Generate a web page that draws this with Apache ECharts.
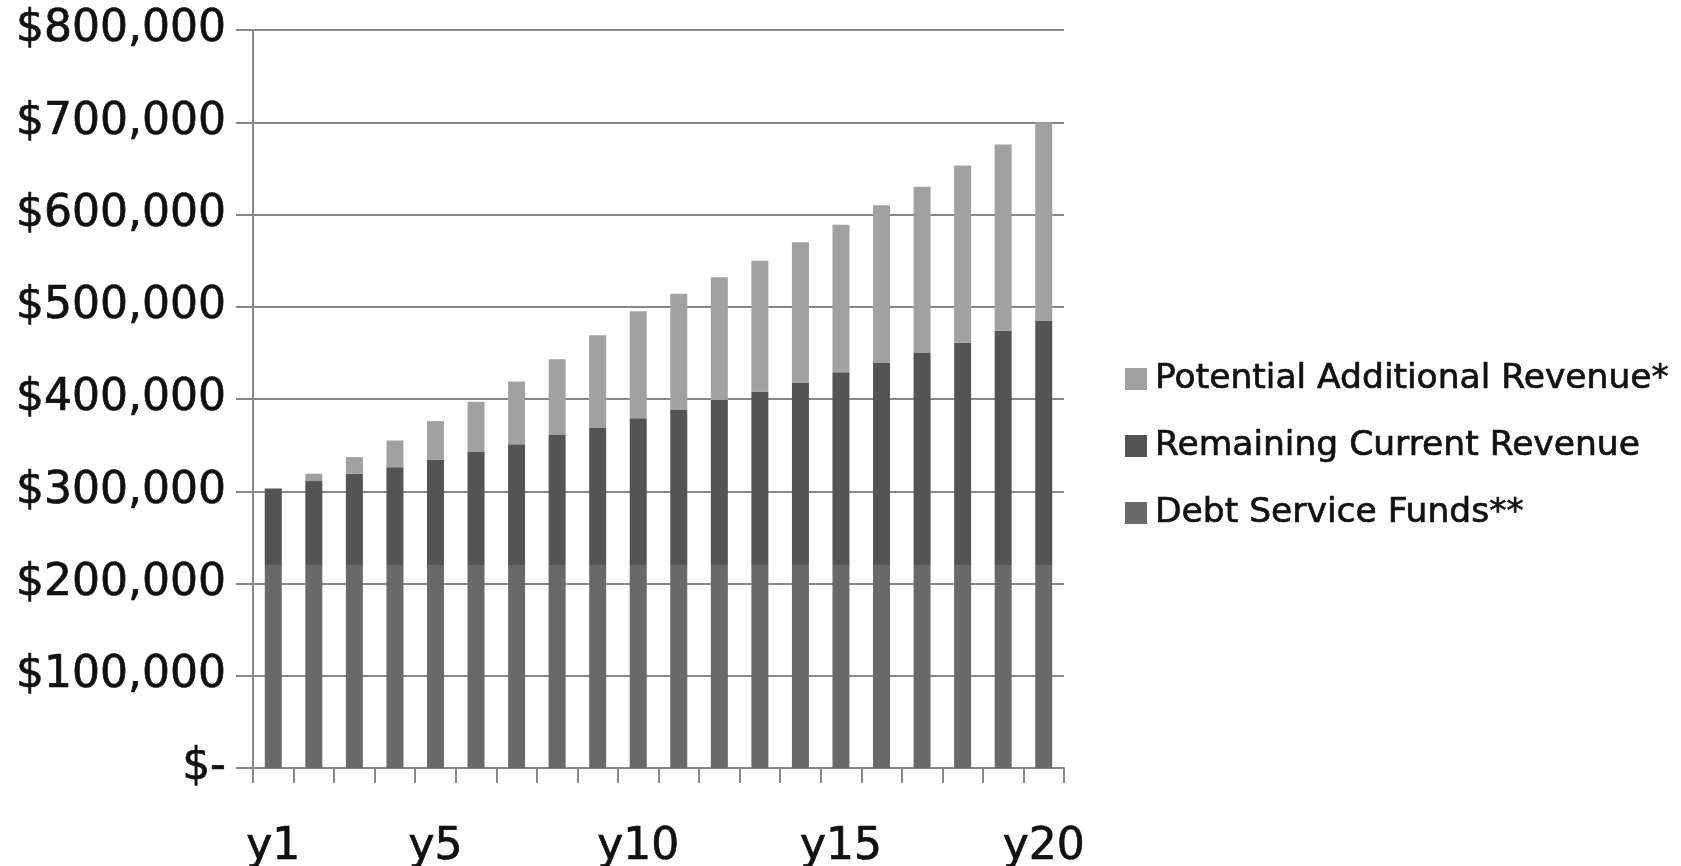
<!DOCTYPE html>
<html>
<head>
<meta charset="utf-8">
<script src="https://cdn.jsdelivr.net/npm/echarts@6/dist/echarts.min.js"></script>
<style>
  html, body { margin: 0; padding: 0; background: #ffffff; }
  #chart { width: 1681px; height: 866px; }
</style>
</head>
<body>
<div id="chart"></div>
<script>
// Years of the projection
const years = ['y1','y2','y3','y4','y5','y6','y7','y8','y9','y10',
               'y11','y12','y13','y14','y15','y16','y17','y18','y19','y20'];

// Stacked revenue components, in dollars
const debtServiceFunds = [220000,220000,220000,220000,220000,220000,220000,220000,220000,220000,
                          220000,220000,220000,220000,220000,220000,220000,220000,220000,220000];
const remainingCurrentRevenue = [83000,91000,99000,106000,114000,123000,131000,141000,149000,159000,
                                 168000,179000,188000,198000,209000,219000,230000,241000,254000,265000];
const potentialAdditionalRevenue = [0,8000,18000,29000,42000,54000,68000,82000,100000,116000,
                                    126000,133000,142000,152000,160000,171000,180000,192000,202000,215000];

// Axis range
const yMin = 0, yMax = 800000, yStep = 100000;

const gridColor = '#878787';
const textFont = 'DejaVu Sans';
const textColor = '#111111';
// a thin outline in the text colour gives the labels a slightly heavier stroke
const heavyText = { color: textColor, textBorderColor: textColor, textBorderWidth: 0.7 };

const chart = echarts.init(document.getElementById('chart'), null, { renderer: 'canvas' });

chart.setOption({
  animation: false,
  backgroundColor: '#ffffff',
  grid: { left: 253, right: 617, top: 30, bottom: 98, containLabel: false, outerBoundsMode: 'none' },
  legend: {
    orient: 'vertical',
    left: 1120,
    top: 354,
    itemWidth: 22,
    itemHeight: 22,
    itemGap: 27,
    icon: 'rect',
    textStyle: Object.assign({ fontFamily: textFont, fontSize: 34.5, lineHeight: 40, padding: [0, 0, 0, 3] }, heavyText),
    data: ['Potential Additional Revenue*', 'Remaining Current Revenue', 'Debt Service Funds**']
  },
  xAxis: {
    type: 'category',
    data: years,
    boundaryGap: true,
    axisLine: { show: true, lineStyle: { color: gridColor, width: 2 } },
    axisTick: { show: true, interval: 0, length: 15, lineStyle: { color: gridColor, width: 2 } },
    axisLabel: Object.assign({
      interval: (i) => i === 0 || (i + 1) % 5 === 0,
      margin: 58,
      fontFamily: textFont,
      fontSize: 44
    }, heavyText),
    splitLine: { show: false }
  },
  yAxis: {
    type: 'value',
    min: yMin,
    max: yMax,
    interval: yStep,
    axisLine: { show: true, lineStyle: { color: gridColor, width: 2 } },
    axisTick: { show: true, length: 17, lineStyle: { color: gridColor, width: 2 } },
    splitLine: { show: true, lineStyle: { color: gridColor, width: 2 } },
    axisLabel: Object.assign({
      margin: 27,
      fontFamily: textFont,
      fontSize: 44,
      formatter: (v) => v === 0 ? '$-' : '$' + v.toLocaleString('en-US')
    }, heavyText)
  },
  series: [
    {
      name: 'Debt Service Funds**',
      type: 'bar',
      stack: 'revenue',
      barWidth: 17,
      itemStyle: { color: '#696969' },
      data: debtServiceFunds
    },
    {
      name: 'Remaining Current Revenue',
      type: 'bar',
      stack: 'revenue',
      barWidth: 17,
      itemStyle: { color: '#545454' },
      data: remainingCurrentRevenue
    },
    {
      name: 'Potential Additional Revenue*',
      type: 'bar',
      stack: 'revenue',
      barWidth: 17,
      itemStyle: { color: '#a1a1a1' },
      data: potentialAdditionalRevenue
    }
  ]
});
</script>
</body>
</html>
